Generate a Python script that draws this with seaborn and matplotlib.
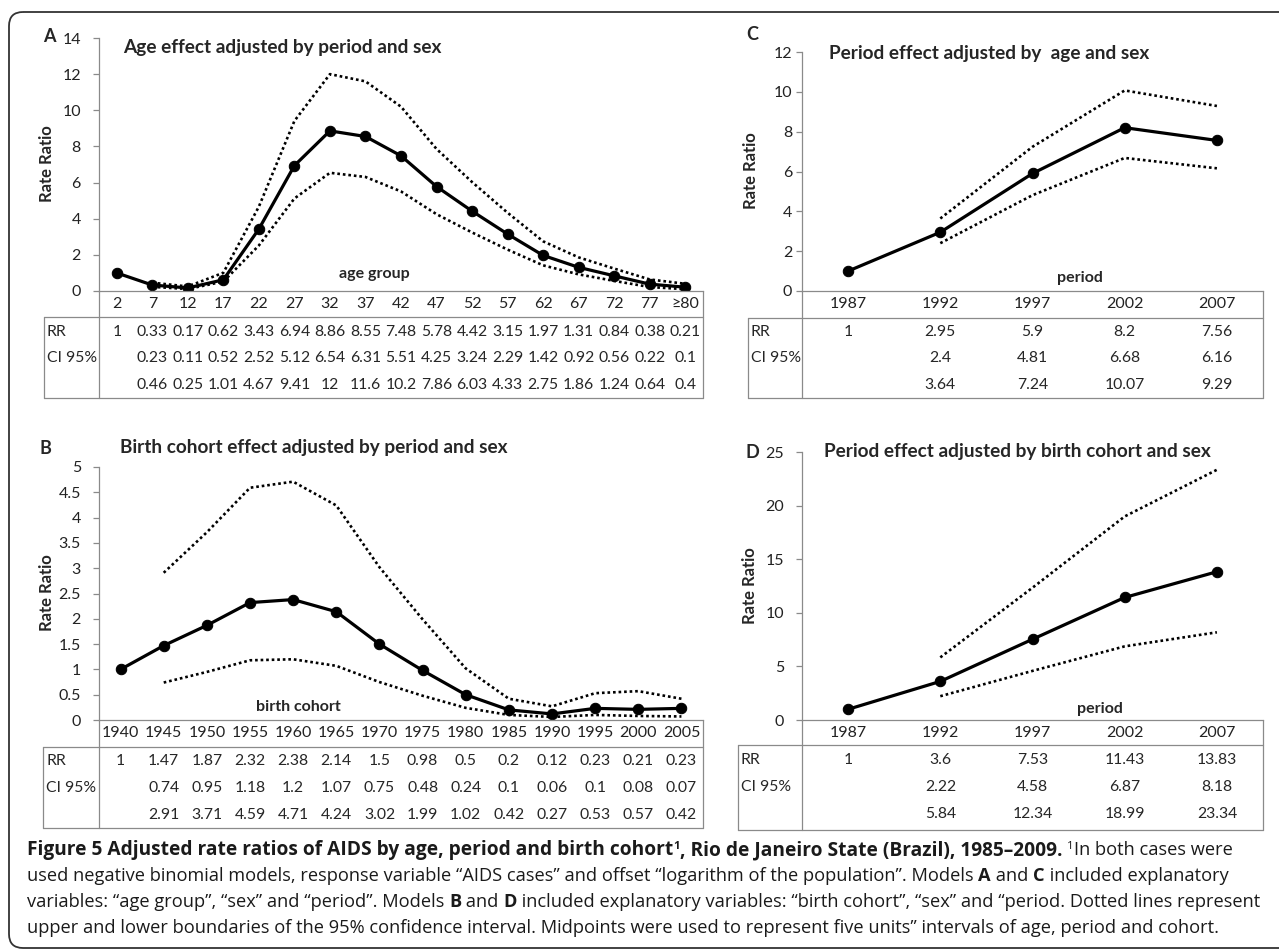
import matplotlib.pyplot as plt
import matplotlib.transforms as mtransforms
from matplotlib.patches import FancyBboxPatch
import numpy as np
import seaborn as sns

age_groups = ["2", "7", "12", "17", "22", "27", "32", "37", "42", "47",
              "52", "57", "62", "67", "72", "77", "≥80"]
age_rr = [1, 0.33, 0.17, 0.62, 3.43, 6.94, 8.86, 8.55, 7.48, 5.78,
          4.42, 3.15, 1.97, 1.31, 0.84, 0.38, 0.21]
age_low = [0.23, 0.11, 0.52, 2.52, 5.12, 6.54, 6.31, 5.51, 4.25,
           3.24, 2.29, 1.42, 0.92, 0.56, 0.22, 0.1]
age_up = [0.46, 0.25, 1.01, 4.67, 9.41, 12, 11.6, 10.2, 7.86,
          6.03, 4.33, 2.75, 1.86, 1.24, 0.64, 0.4]

cohorts = ["1940", "1945", "1950", "1955", "1960", "1965", "1970",
           "1975", "1980", "1985", "1990", "1995", "2000", "2005"]
cohort_rr = [1, 1.47, 1.87, 2.32, 2.38, 2.14, 1.5, 0.98, 0.5, 0.2,
             0.12, 0.23, 0.21, 0.23]
cohort_low = [0.74, 0.95, 1.18, 1.2, 1.07, 0.75, 0.48, 0.24, 0.1,
              0.06, 0.1, 0.08, 0.07]
cohort_up = [2.91, 3.71, 4.59, 4.71, 4.24, 3.02, 1.99, 1.02, 0.42,
             0.27, 0.53, 0.57, 0.42]

periods = ["1987", "1992", "1997", "2002", "2007"]
period_c_rr = [1, 2.95, 5.9, 8.2, 7.56]
period_c_low = [2.4, 4.81, 6.68, 6.16]
period_c_up = [3.64, 7.24, 10.07, 9.29]

period_d_rr = [1, 3.6, 7.53, 11.43, 13.83]
period_d_low = [2.22, 4.58, 6.87, 8.18]
period_d_up = [5.84, 12.34, 18.99, 23.34]

# ---- style ----
W, H = 1279, 952
sns.set_theme(style="white")
plt.rcParams["font.family"] = ["Lato", "DejaVu Sans"]
GRAY = "#8a8a8a"

fig = plt.figure(figsize=(W / 100, H / 100), dpi=100)

# background axes in pixel coordinates (frame, table grid, free text)
bg = fig.add_axes([0, 0, 1, 1])
bg.set_xlim(0, W)
bg.set_ylim(H, 0)
bg.axis("off")
bg.add_patch(FancyBboxPatch((9, 12), 1290, 936,
                            boxstyle="round,pad=0,rounding_size=14",
                            fill=False, ec="#333333", lw=1.3))


def panel(box, names, rr, low, up, ymax, ystep, letter, letter_xy, title,
          title_xy, xlabel, xlabel_xy, ylabel_xy, table, ypad):
    left, top, right, bottom = box
    ax = fig.add_axes([left / W, 1 - bottom / H, (right - left) / W,
                       (bottom - top) / H])
    ax.patch.set_alpha(0)
    n = len(names)
    idx = np.arange(n)

    dotted = dict(color="black", lw=1.9, linestyle=(0, (1, 1.1)),
                  estimator=None, sort=False)
    sns.lineplot(x=idx[1:], y=up, ax=ax, **dotted)
    sns.lineplot(x=idx[1:], y=low, ax=ax, **dotted)
    sns.lineplot(x=idx, y=rr, ax=ax, color="black", lw=2.3, marker="o",
                 markersize=7.5, markeredgecolor="black", estimator=None,
                 sort=False)

    ax.set_xlim(-0.5, n - 0.5)
    ax.set_ylim(0, ymax)
    yt = np.arange(0, ymax + ystep / 2, ystep)
    ax.set_yticks(yt)
    ax.set_yticklabels([f"{v:g}" for v in yt])
    ax.set_xticks(idx)
    ax.set_xticklabels(names)
    ax.set_xlabel("")
    ax.set_ylabel("")
    ax.tick_params(axis="y", left=True, length=4, width=0.9, color=GRAY,
                   pad=ypad, labelsize=11.5, labelcolor="#222222")
    ax.tick_params(axis="x", bottom=False, length=0, pad=4, labelsize=11.5,
                   labelcolor="#222222")
    for s in ["top", "right"]:
        ax.spines[s].set_visible(False)
    for s in ["left", "bottom"]:
        ax.spines[s].set_color(GRAY)
        ax.spines[s].set_linewidth(0.9)

    # panel texts
    bg.text(*letter_xy, letter, fontsize=13, fontweight="bold",
            ha="center", va="center")
    bg.text(*title_xy, title, fontsize=13.7, fontweight="bold",
            ha="left", va="center")
    bg.text(*xlabel_xy, xlabel, fontsize=11.5, fontweight="bold",
            ha="center", va="center")
    bg.text(*ylabel_xy, "Rate Ratio", fontsize=12, fontweight="bold",
            ha="center", va="center", rotation=90)

    # data table under the axis
    t_left, t_top, rows, t_bottom = table
    kw = dict(color=GRAY, lw=0.9)
    bg.plot([t_left, right], [t_top, t_top], **kw)
    bg.plot([t_left, right], [t_bottom, t_bottom], **kw)
    bg.plot([t_left, t_left], [t_top, t_bottom], **kw)
    bg.plot([left, left], [bottom, t_bottom], **kw)
    bg.plot([right, right], [bottom, t_bottom], **kw)

    bg.text(t_left + 3, rows[0], "RR", fontsize=11.3, ha="left", va="center")
    bg.text(t_left + 3, rows[1], "CI 95%", fontsize=11.3, ha="left",
            va="center")
    tr = mtransforms.blended_transform_factory(ax.transData, bg.transData)
    for i in idx:
        bg.text(i, rows[0], f"{rr[i]:g}", transform=tr, fontsize=11.3,
                ha="center", va="center")
    for i, (lo, hi) in enumerate(zip(low, up), start=1):
        bg.text(i, rows[1], f"{lo:g}", transform=tr, fontsize=11.3,
                ha="center", va="center")
        bg.text(i, rows[2], f"{hi:g}", transform=tr, fontsize=11.3,
                ha="center", va="center")
    return ax


panel((99, 38, 703, 291), age_groups, age_rr, age_low, age_up, 14, 2,
      "A", (49, 37), "Age effect adjusted by period and sex", (123, 47),
      "age group", (374, 274), (47, 164), (44, 317, (332, 358, 385), 398), 9)

panel((99, 467, 703, 720), cohorts, cohort_rr, cohort_low, cohort_up, 5, 0.5,
      "B", (45, 448), "Birth cohort effect adjusted by period and sex",
      (120, 448), "birth cohort", (298, 707), (47, 593),
      (43, 747, (761, 788, 815), 828), 9)

panel((802, 52, 1263, 291), periods, period_c_rr, period_c_low, period_c_up,
      12, 2, "C", (752, 35), "Period effect adjusted by  age and sex",
      (829, 53), "period", (1080, 278), (751, 171),
      (748, 318, (332, 358, 385), 398), 3)

panel((802, 452, 1263, 720), periods, period_d_rr, period_d_low, period_d_up,
      25, 5, "D", (752, 452), "Period effect adjusted by birth cohort and sex",
      (824, 452), "period", (1100, 709), (750, 586),
      (738, 745, (760, 787, 814), 830), 9)

# ---- caption with mixed bold / regular / superscript runs ----
renderer = fig.canvas.get_renderer()
CAP_FONT = ["Open Sans", "DejaVu Sans"]
BOLD_SCALE = 1.05  # bold heading is set a touch larger than the body


def rich_line(x, y, parts, size):
    for text, bold, sup in parts:
        s = size * (BOLD_SCALE if bold and len(text) > 1 else 1.0)
        t = bg.text(x, y - (0.45 * size if sup else 0), text, family=CAP_FONT,
                    fontsize=s * 0.62 if sup else s,
                    fontweight="bold" if bold else "normal",
                    ha="left", va="baseline", color="#1a1a1a")
        x += t.get_window_extent(renderer).width
    return x


caption = [
    [("Figure 5 Adjusted rate ratios of AIDS by age, period and birth cohort", True, False),
     ("1", True, True),
     (", Rio de Janeiro State (Brazil), 1985\u20132009.", True, False),
     (" ", False, False), ("1", False, True),
     ("In both cases were", False, False)],
    [("used negative binomial models, response variable \u201cAIDS cases\u201d and offset \u201clogarithm of the population\u201d. Models ", False, False),
     ("A", True, False), (" and ", False, False), ("C", True, False),
     (" included explanatory", False, False)],
    [("variables: \u201cage group\u201d, \u201csex\u201d and \u201cperiod\u201d. Models ", False, False),
     ("B", True, False), (" and ", False, False), ("D", True, False),
     (" included explanatory variables: \u201cbirth cohort\u201d, \u201csex\u201d and \u201cperiod. Dotted lines represent", False, False)],
    [("upper and lower boundaries of the 95% confidence interval. Midpoints were used to represent five units\u201d intervals of age, period and cohort.", False, False)],
]

# fit the caption font so the longest line spans the frame width
base = 11.0
n_before = len(bg.texts)
probe_end = rich_line(27, -100, caption[2], base)
for t in bg.texts[n_before:]:
    t.remove()
cap_size = base * (1262 - 27) / (probe_end - 27)

baselines = [855, 881, 907, 933]
for parts, yb in zip(caption, baselines):
    rich_line(27, yb, parts, cap_size)

plt.savefig("out.png", dpi=100)
plt.close()
